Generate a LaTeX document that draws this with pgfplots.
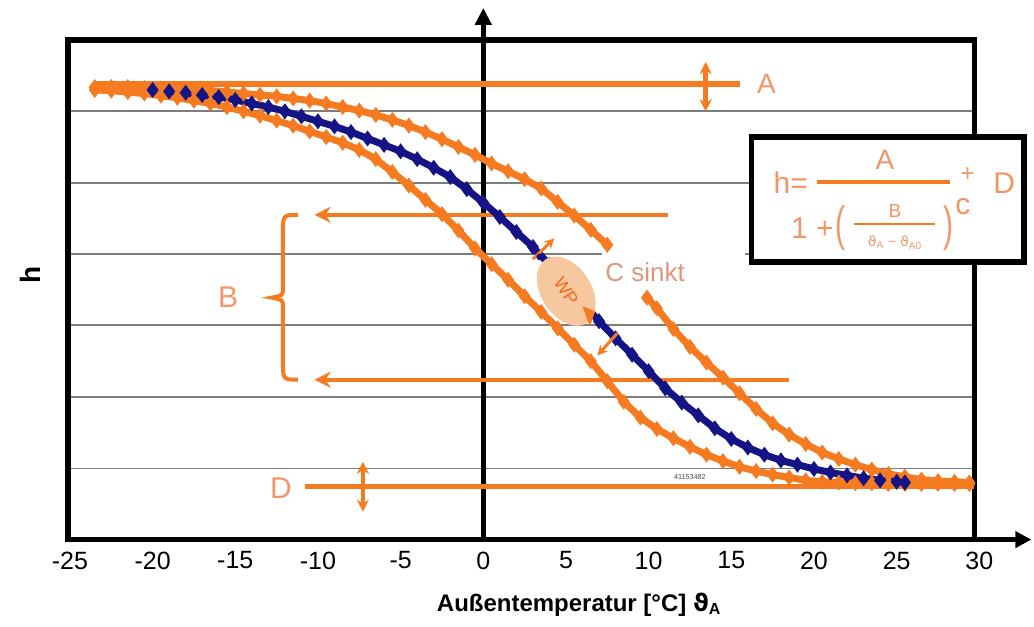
\documentclass[border=0pt]{standalone}
\usepackage{pgfplots}
\pgfplotsset{compat=1.18}
\usepackage{pgfplotstable}
\usepackage{fontspec}
\setmainfont{Liberation Sans}
\newfontfamily\dejavu{DejaVu Sans}
\usetikzlibrary{arrows.meta,shapes.geometric}
\definecolor{orng}{RGB}{245,122,32}
\definecolor{navyb}{RGB}{20,20,135}
\definecolor{lbl}{RGB}{240,150,105}
\definecolor{csink}{RGB}{222,150,122}
\definecolor{wpfill}{RGB}{247,200,160}
\definecolor{grd}{RGB}{125,125,125}

\pgfplotstableread{
x y
-20 6.30
-19 6.28
-18 6.26
-17 6.23
-16 6.20
-15 6.16
-14 6.11
-13 6.06
-12 6.00
-11 5.93
-10 5.86
-9 5.79
-8 5.71
-7 5.62
-6 5.53
-5 5.44
-4 5.33
-3 5.21
-2 5.08
-1 4.91
0 4.72
1 4.52
2 4.31
3 4.10
4 3.85
5 3.58
6 3.32
7 3.06
8 2.82
9 2.59
10 2.36
11 2.12
12 1.92
13 1.74
14 1.56
15 1.41
16 1.29
17 1.19
18 1.11
19 1.05
20 0.99
21 0.94
22 0.90
23 0.86
24 0.83
25 0.81
25.5 0.80
}\bluecurve

\pgfplotstableread{
x y
-23.5 6.34
-22.5 6.34
-21.5 6.34
-20.5 6.33
-19.5 6.32
-18.5 6.31
-17.5 6.30
-16.5 6.29
-15.5 6.27
-14.5 6.25
-13.5 6.23
-12.5 6.21
-11.5 6.18
-10.5 6.15
-9.5 6.11
-8.5 6.06
-7.5 6.01
-6.5 5.95
-5.5 5.88
-4.5 5.80
-3.5 5.71
-2.5 5.61
-1.5 5.50
-0.5 5.39
0.5 5.27
1.5 5.16
2.5 5.05
3.5 4.92
4.5 4.73
5.5 4.54
6.5 4.34
7.5 4.13
}\upperA

\pgfplotstableread{
x y
9.9 3.39
10.5 3.24
11.5 2.95
12.5 2.70
13.5 2.48
14.5 2.27
15.5 2.05
16.5 1.83
17.5 1.63
18.5 1.47
19.5 1.34
20.5 1.22
21.5 1.13
22.5 1.05
23.5 0.98
24.5 0.92
25.5 0.88
26.5 0.84
27.5 0.82
28.5 0.81
29.4 0.80
}\upperB

\pgfplotstableread{
x y
-23.5 6.30
-22.5 6.29
-21.5 6.27
-20.5 6.25
-19.5 6.22
-18.5 6.19
-17.5 6.15
-16.5 6.11
-15.5 6.06
-14.5 6.00
-13.5 5.94
-12.5 5.87
-11.5 5.80
-10.5 5.72
-9.5 5.64
-8.5 5.56
-7.5 5.46
-6.5 5.33
-5.5 5.15
-4.5 4.96
-3.5 4.76
-2.5 4.56
-1.5 4.33
-0.5 4.08
0.5 3.86
1.5 3.64
2.5 3.41
3.5 3.19
4.5 2.96
5.5 2.73
6.5 2.50
7.5 2.22
8.5 1.93
9.5 1.71
10.5 1.55
11.5 1.42
12.5 1.30
13.5 1.19
14.5 1.10
15.5 1.02
16.5 0.96
17.5 0.91
18.5 0.87
19.5 0.83
20.5 0.81
21.5 0.80
22.5 0.79
23.5 0.79
24.5 0.78
25.5 0.78
26.5 0.78
27.5 0.78
28.5 0.78
29.4 0.78
}\lowercurve

\begin{document}
\begin{tikzpicture}
\begin{axis}[
  set layers,
  scale only axis, width=456pt, height=250pt,
  xmin=-25.12, xmax=30, ymin=0, ymax=7,
  clip=false,
  axis line style={draw=none},
  xtick={-25,-20,-15,-10,-5,0,5,10,15,20,25,30},
  xticklabels={-25,-20,-15,-10,-5,0,5,10,15,20,25,30},
  ytick=\empty,
  major tick length=0pt,
  xticklabel style={font=\fontsize{12.5}{14}\selectfont, yshift=-2.5pt},
]
% bounding area of the whole picture
\path (axis cs:-29.23,7.56) rectangle (axis cs:33.27,-1.218);

% grid lines
\draw[grd, line width=1pt] (axis cs:-25.12,6) -- (axis cs:29.7,6);
\draw[grd, line width=1pt] (axis cs:-25.12,5) -- (axis cs:16.2,5);
\draw[grd, line width=1pt] (axis cs:-25.12,4) -- (axis cs:7.2,4);
\draw[grd, line width=1pt] (axis cs:15.8,4) -- (axis cs:16.2,4);
\draw[grd, line width=1pt] (axis cs:-25.12,3) -- (axis cs:29.7,3);
\draw[grd, line width=1pt] (axis cs:-25.12,2) -- (axis cs:29.7,2);
\draw[grd, line width=0.7pt] (axis cs:-25.12,1) -- (axis cs:29.7,1);

% frame
\draw[line width=2.6pt] (axis cs:-25.12,0) rectangle (axis cs:29.7,7);
\draw[line width=2.6pt, -{Triangle[length=8pt,width=8pt]}] (axis cs:29.5,0) -- (axis cs:33.15,0);
\draw[line width=2.4pt, -{Triangle[length=8.5pt,width=8pt]}] (axis cs:0,0) -- (axis cs:0,7.45);

% tiny text
\node[text=black!70, font=\fontsize{3.6}{4}\selectfont] at (axis cs:12.5,0.88) {41153482};

% A and D lines
\draw[orng, line width=2.8pt] (axis cs:-23.5,6.384) -- (axis cs:15.5,6.384);
\draw[orng, line width=2.2pt, {Stealth[length=6pt,width=6pt]}-{Stealth[length=6pt,width=6pt]}] (axis cs:13.45,6.69) -- (axis cs:13.45,6.0);
\node[text=lbl, font=\fontsize{14}{16}\selectfont] at (axis cs:17.13,6.38) {A};
\draw[orng, line width=2.2pt] (axis cs:-10.79,0.742) -- (axis cs:29.7,0.742);
\draw[orng, line width=2.2pt, {Stealth[length=6pt,width=6pt]}-{Stealth[length=6pt,width=6pt]}] (axis cs:-7.28,1.09) -- (axis cs:-7.28,0.39);
\node[text=lbl, font=\fontsize{15}{16}\selectfont] at (axis cs:-12.24,0.72) {D};

% B arrows and brace
\draw[orng, line width=2pt, -{Stealth[length=8pt,width=8pt]}] (axis cs:11.15,4.55) -- (axis cs:-10.2,4.55);
\draw[orng, line width=2pt, -{Stealth[length=8pt,width=8pt]}] (axis cs:18.5,2.24) -- (axis cs:-10.2,2.24);
\draw[orng, line width=2pt] (axis cs:-11.22,4.55) .. controls (axis cs:-12.12,4.55) .. (axis cs:-12.12,4.27) -- (axis cs:-12.12,3.52) .. controls (axis cs:-12.12,3.42) .. (axis cs:-12.79,3.39) .. controls (axis cs:-12.12,3.36) .. (axis cs:-12.12,3.26) -- (axis cs:-12.12,2.52) .. controls (axis cs:-12.12,2.24) .. (axis cs:-11.22,2.24);
\node[text=lbl, font=\fontsize{15}{16}\selectfont] at (axis cs:-15.44,3.40) {B};

% curves
\addplot[orng, line width=3.5pt, mark=diamond*, mark size=3.6pt, mark options={solid, line width=0.5pt, fill=orng, draw=orng}] table {\upperA};
\addplot[orng, line width=3.5pt, mark=diamond*, mark size=3.6pt, mark options={solid, line width=0.5pt, fill=orng, draw=orng}] table {\upperB};
\addplot[orng, line width=3.5pt, mark=diamond*, mark size=3.6pt, mark options={solid, line width=0.5pt, fill=orng, draw=orng}] table {\lowercurve};
\addplot[navyb, line width=3.5pt, mark=diamond*, mark size=3.6pt, mark options={solid, line width=0.5pt, fill=navyb, draw=navyb}] table {\bluecurve};

% WP (on top of the curves)
\begin{pgfonlayer}{axis foreground}
\node[ellipse, fill=wpfill, text=orng!85!red, minimum width=38pt, minimum height=25pt, rotate=-57, inner sep=0pt, font=\fontsize{9}{10}\selectfont] at (axis cs:5.02,3.48) {WP};
\draw[orng, line width=1.5pt, -{Stealth[length=5pt,width=5pt]}] (axis cs:3.0,3.93) -- (axis cs:4.3,4.22);
\draw[orng, line width=1.5pt, -{Stealth[length=5pt,width=5pt]}] (axis cs:8.1,2.89) -- (axis cs:6.9,2.58);
\fill[navyb] (axis cs:3.4,3.96) circle (1.6pt);
\fill[orng] (axis cs:6.0,3.27) -- (axis cs:6.75,3.20) -- (axis cs:6.45,2.98) -- cycle;
\end{pgfonlayer}
\node[text=csink, font=\fontsize{13}{15}\selectfont] at (axis cs:9.79,3.75) {C sinkt};

% formula box
\draw[line width=2.6pt, fill=white] (axis cs:16.2,5.64) rectangle (axis cs:32.7,3.89);
\node[text=lbl, font=\fontsize{15}{16}\selectfont] at (axis cs:18.6,5.0) {h=};
\draw[orng, line width=1.6pt] (axis cs:20.2,5.01) -- (axis cs:28.2,5.01);
\node[text=lbl, font=\fontsize{14}{16}\selectfont] at (axis cs:24.3,5.32) {A};
\node[text=lbl, font=\fontsize{15}{16}\selectfont] at (axis cs:19.9,4.36) {1 +};
\node[text=lbl, font=\fontsize{15}{16}\selectfont] at (axis cs:21.6,4.36) {\scalebox{1}[1.6]{(}};
\draw[orng, line width=1.3pt] (axis cs:22.45,4.42) -- (axis cs:27.3,4.42);
\node[text=lbl, font=\fontsize{9.5}{10}\selectfont] at (axis cs:24.9,4.61) {B};
\node[text=lbl, font=\fontsize{7}{8}\selectfont] at (axis cs:24.9,4.16) {{\dejavu ϑ}\textsubscript{A} − {\dejavu ϑ}\textsubscript{A0}};
\node[text=lbl, font=\fontsize{15}{16}\selectfont] at (axis cs:28.15,4.36) {\scalebox{1}[1.6]{)}};
\node[text=lbl, font=\fontsize{15}{16}\selectfont] at (axis cs:29.0,4.66) {c};
\node[text=lbl, font=\fontsize{12}{14}\selectfont] at (axis cs:29.3,5.12) {+};
\node[text=lbl, font=\fontsize{15}{16}\selectfont] at (axis cs:31.5,5.0) {D};

% axis labels
\node[font=\bfseries\fontsize{12}{14}\selectfont] at (axis cs:5.8,-0.91) {Außentemperatur [°C] {\dejavu\bfseries ϑ}\textsubscript{A}};
\node[rotate=90, font=\bfseries\fontsize{14}{16}\selectfont] at (axis cs:-27.4,3.71) {h};
\end{axis}
\end{tikzpicture}
\end{document}
